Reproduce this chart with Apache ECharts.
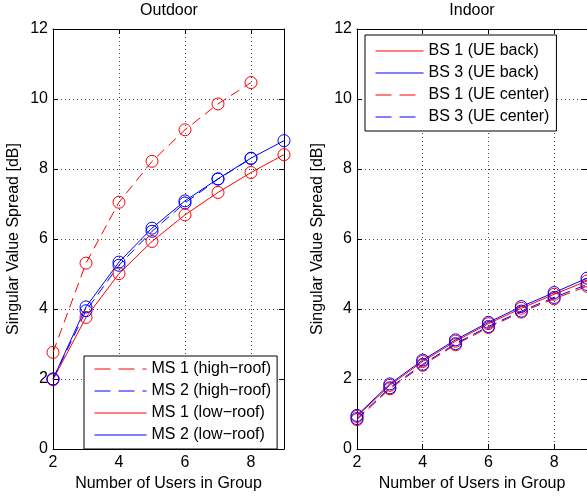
<!DOCTYPE html>
<html>
<head>
<meta charset="utf-8">
<script src="https://cdn.jsdelivr.net/npm/echarts@6/dist/echarts.min.js"></script>
<style>html,body{margin:0;padding:0;background:#fff}#c{width:587px;height:498px}</style>
</head>
<body>
<div id="c"></div>
<script>
// ---- data ----
const users = [2, 3, 4, 5, 6, 7, 8, 9];
const usersHigh = [2, 3, 4, 5, 6, 7, 8];
const xTicks = [2, 4, 6, 8];
const yTicks = [0, 2, 4, 6, 8, 10, 12];

const outdoorNames = ['MS 1 (high\u2212roof)', 'MS 2 (high\u2212roof)', 'MS 1 (low\u2212roof)', 'MS 2 (low\u2212roof)'];
const ms1High = [2.76, 5.31, 7.05, 8.22, 9.12, 9.86, 10.47];
const ms2High = [2.00, 3.95, 5.25, 6.22, 7.03, 7.71, 8.30];
const ms1Low  = [1.98, 3.76, 5.01, 5.93, 6.69, 7.33, 7.90, 8.41];
const ms2Low  = [2.00, 4.06, 5.34, 6.31, 7.09, 7.72, 8.31, 8.81];

const indoorNames = ['BS 1 (UE back)', 'BS 3 (UE back)', 'BS 1 (UE center)', 'BS 3 (UE center)'];
const bs1Back   = [0.93, 1.82, 2.50, 3.08, 3.58, 4.02, 4.42, 4.80];
const bs3Back   = [0.96, 1.86, 2.54, 3.12, 3.62, 4.07, 4.47, 4.88];
const bs1Center = [0.84, 1.72, 2.39, 2.98, 3.47, 3.91, 4.29, 4.65];
const bs3Center = [0.87, 1.75, 2.42, 3.01, 3.50, 3.94, 4.33, 4.70];

// ---- chart ----
const FONT = 'Liberation Sans, Arial, Helvetica, sans-serif';
const RED = '#ff0000', BLUE = '#0000ff';
const DASH = [10, 6];

function pairs(xs, ys) { return ys.map((v, i) => [xs[i], v]); }

function mainX(gi) {
  return {
    type: 'value', gridIndex: gi, min: 2, max: 9, interval: 2, position: 'bottom',
    name: 'Number of Users in Group', nameLocation: 'middle', nameGap: 25,
    nameTextStyle: { fontFamily: FONT, fontSize: 16, color: '#000' },
    axisLine: { show: true, onZero: false, lineStyle: { color: '#000', width: 1 } },
    axisTick: { show: true, inside: true, length: 5, lineStyle: { color: '#000' } },
    axisLabel: { fontFamily: FONT, fontSize: 16, color: '#000', margin: 6, showMaxLabel: false,
      formatter: v => (xTicks.indexOf(v) >= 0 ? String(v) : '') },
    splitLine: { show: true, lineStyle: { color: '#444', width: 1, type: [1, 3] } }
  };
}
function topX(gi) {
  return {
    type: 'value', gridIndex: gi, min: 2, max: 9, interval: 2, position: 'top',
    axisLine: { show: true, onZero: false, lineStyle: { color: '#000', width: 1 } },
    axisTick: { show: true, inside: true, length: 5, lineStyle: { color: '#000' } },
    axisLabel: { show: false }, splitLine: { show: false }
  };
}
function mainY(gi) {
  return {
    type: 'value', gridIndex: gi, min: 0, max: 12, interval: 2, position: 'left',
    name: 'Singular Value Spread [dB]', nameLocation: 'middle', nameGap: 31,
    nameTextStyle: { fontFamily: FONT, fontSize: 16, color: '#000' },
    axisLine: { show: true, onZero: false, lineStyle: { color: '#000', width: 1 } },
    axisTick: { show: true, inside: true, length: 5, lineStyle: { color: '#000' } },
    axisLabel: { fontFamily: FONT, fontSize: 16, color: '#000', margin: 5,
      formatter: v => (yTicks.indexOf(v) >= 0 ? String(v) : '') },
    splitLine: { show: true, lineStyle: { color: '#444', width: 1, type: [1, 3] } }
  };
}
function rightY(gi) {
  return {
    type: 'value', gridIndex: gi, min: 0, max: 12, interval: 2, position: 'right',
    axisLine: { show: true, onZero: false, lineStyle: { color: '#000', width: 1 } },
    axisTick: { show: true, inside: true, length: 5, lineStyle: { color: '#000' } },
    axisLabel: { show: false }, splitLine: { show: false }
  };
}
function ser(name, xi, yi, data, color, dashed) {
  return {
    name: name, type: 'line', xAxisIndex: xi, yAxisIndex: yi, data: data,
    symbol: 'circle', symbolSize: 12, showSymbol: true, animation: false,
    lineStyle: { color: color, width: 1, type: dashed ? DASH : 'solid' },
    itemStyle: { color: 'rgba(0,0,0,0)', borderColor: color, borderWidth: 1 },
    emphasis: { disabled: true }
  };
}
function legendItems(names, dashedFlags, colors) {
  return names.map((n, i) => ({ name: n, lineStyle: { color: colors[i], width: 1, type: dashedFlags[i] ? [16, 8] : 'solid' } }));
}

const chart = echarts.init(document.getElementById('c'), null, { renderer: 'canvas' });
chart.setOption({
  backgroundColor: '#fff',
  animation: false,
  grid: [
    { left: 53, top: 29, width: 231, height: 420 },
    { left: 357, top: 29, width: 231, height: 420 }
  ],
  xAxis: [mainX(0), topX(0), mainX(1), topX(1)],
  yAxis: [mainY(0), rightY(0), mainY(1), rightY(1)],
  graphic: [
    { type: 'text', x: 169, y: 11, style: { text: 'Outdoor', font: '16px ' + FONT, fill: '#000', align: 'center', verticalAlign: 'middle' } },
    { type: 'text', x: 472, y: 11, style: { text: 'Indoor', font: '16px ' + FONT, fill: '#000', align: 'center', verticalAlign: 'middle' } }
  ],
  legend: [
    {
      data: legendItems(outdoorNames, [true, true, false, false], [RED, BLUE, RED, BLUE]),
      orient: 'vertical', left: 84, top: 356, itemWidth: 52, itemHeight: 14, itemGap: 6,
      padding: [5, 6, 6, 10], backgroundColor: '#fff', borderColor: '#000', borderWidth: 1,
      textStyle: { fontFamily: FONT, fontSize: 16, color: '#000' },
      itemStyle: { opacity: 0 }, selectedMode: false
    },
    {
      data: legendItems(indoorNames, [false, false, true, true], [RED, BLUE, RED, BLUE]),
      orient: 'vertical', left: 365, top: 35, itemWidth: 48, itemHeight: 14, itemGap: 6,
      padding: [8, 7, 6, 10], backgroundColor: '#fff', borderColor: '#000', borderWidth: 1,
      textStyle: { fontFamily: FONT, fontSize: 16, color: '#000' },
      itemStyle: { opacity: 0 }, selectedMode: false
    }
  ],
  series: [
    ser(outdoorNames[0], 0, 0, pairs(usersHigh, ms1High), RED, true),
    ser(outdoorNames[1], 0, 0, pairs(usersHigh, ms2High), BLUE, true),
    ser(outdoorNames[2], 0, 0, pairs(users, ms1Low), RED, false),
    ser(outdoorNames[3], 0, 0, pairs(users, ms2Low), BLUE, false),
    ser(indoorNames[0], 2, 2, pairs(users, bs1Back), RED, false),
    ser(indoorNames[1], 2, 2, pairs(users, bs3Back), BLUE, false),
    ser(indoorNames[2], 2, 2, pairs(users, bs1Center), RED, true),
    ser(indoorNames[3], 2, 2, pairs(users, bs3Center), BLUE, true)
  ]
});
</script>
</body>
</html>
